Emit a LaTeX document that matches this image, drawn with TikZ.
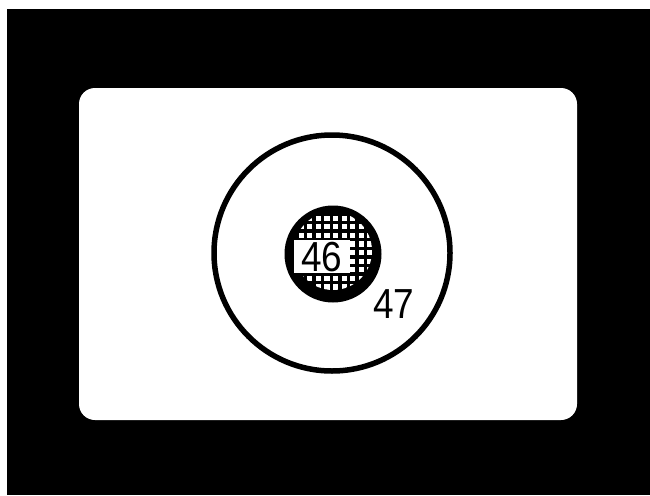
\documentclass[tikz,border=0pt]{standalone}
\usepackage{fontspec}
\setmainfont{Liberation Sans}
\begin{document}
\begin{tikzpicture}[x=1pt,y=-1pt,
  ring/.style={draw=black,line width=5.5pt},
  numlabel/.style={font=\fontsize{42}{42}\selectfont,xscale=0.88,inner sep=0pt,text=black}]
\useasboundingbox (0,0) rectangle (650,495);
\fill[white] (0,0) rectangle (650,495);
\fill[black] (7,9) rectangle (650,495);
\fill[white,rounded corners=16pt] (79,88) rectangle (577,420);
% outer circle
\draw[ring] (332,253) circle[radius=118];
% hatched inner disc
\fill[black] (333,254) circle[radius=48.5];
\begin{scope}
  \clip (333,251) circle[radius=39];
  \foreach \i in {0,...,11} {
    \foreach \j in {0,...,11} {
      \fill[white] ({290+\i*8.6},{207+\j*8.6}) rectangle ++(5.2,5.2);
    }
  }
\end{scope}
% label patch
\fill[white] (294,240) rectangle (350,273);
\node[numlabel] (n46) at (322,257) {46};
\node[numlabel] (n47) at (394,304) {47};
\end{tikzpicture}
\end{document}
